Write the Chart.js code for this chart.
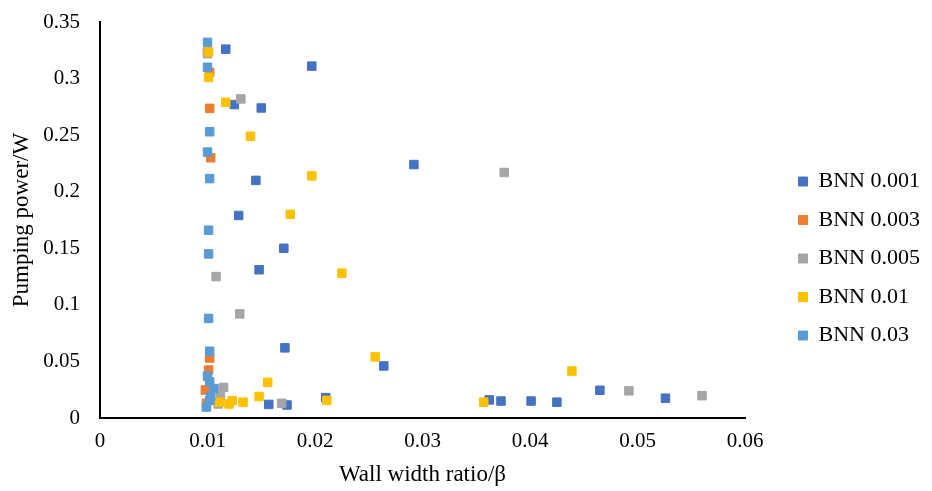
<!DOCTYPE html>
<html lang="en">
  <head>
    <meta charset="UTF-8" />
    <title>Pumping power vs wall width ratio</title>
    <script src="https://cdn.jsdelivr.net/npm/chart.js"></script>
    <style>
      body { margin: 0; background: #fff; }
    </style>
  </head>
  <body>
    <canvas id="powerChart" width="932" height="491"></canvas>

    <script>
      // Series (wall width ratio, pumping power)
      const seriesNames = ["BNN 0.001", "BNN 0.003", "BNN 0.005", "BNN 0.01", "BNN 0.03"];
      const seriesColors = ["#4472C4", "#ED7D31", "#A5A5A5", "#FFC000", "#5B9BD5"];

      const bnn001X = [0.0117, 0.0197, 0.0125, 0.0150, 0.0292, 0.0145, 0.0129, 0.0171, 0.0148, 0.0172, 0.0264, 0.0210, 0.0157, 0.0174, 0.0362, 0.0373, 0.0401, 0.0425, 0.0465, 0.0526];
      const bnn001Y = [0.326, 0.311, 0.277, 0.274, 0.224, 0.210, 0.179, 0.150, 0.131, 0.062, 0.046, 0.018, 0.012, 0.0115, 0.016, 0.015, 0.015, 0.014, 0.0245, 0.0175];

      const bnn003X = [0.0100, 0.0102, 0.0102, 0.0103, 0.0102, 0.0101, 0.0098, 0.0099];
      const bnn003Y = [0.3235, 0.3055, 0.2737, 0.230, 0.053, 0.0424, 0.0247, 0.013];

      const bnn005X = [0.0100, 0.0131, 0.0108, 0.0130, 0.0115, 0.0112, 0.0110, 0.0169, 0.0376, 0.0492, 0.0560];
      const bnn005Y = [0.322, 0.282, 0.125, 0.092, 0.027, 0.019, 0.0124, 0.013, 0.217, 0.024, 0.0197];

      const bnn01X = [0.0101, 0.0101, 0.0117, 0.0140, 0.0197, 0.0177, 0.0225, 0.0156, 0.0148, 0.0111, 0.0120, 0.0123, 0.0133, 0.0211, 0.0256, 0.0357, 0.0439];
      const bnn01Y = [0.3235, 0.301, 0.279, 0.249, 0.214, 0.180, 0.128, 0.0315, 0.019, 0.014, 0.0124, 0.0153, 0.014, 0.0156, 0.054, 0.014, 0.0415];

      const bnn03X = [0.0100, 0.0100, 0.0102, 0.0100, 0.0102, 0.0101, 0.0101, 0.0101, 0.0102, 0.0100, 0.0102, 0.0106, 0.0103, 0.0102, 0.0099];
      const bnn03Y = [0.332, 0.310, 0.253, 0.235, 0.2116, 0.166, 0.145, 0.088, 0.059, 0.037, 0.032, 0.026, 0.019, 0.0155, 0.0097];

      const xTicks = [0, 0.01, 0.02, 0.03, 0.04, 0.05, 0.06];
      const yTicks = [0, 0.05, 0.1, 0.15, 0.2, 0.25, 0.3, 0.35];

      const seriesX = [bnn001X, bnn003X, bnn005X, bnn01X, bnn03X];
      const seriesY = [bnn001Y, bnn003Y, bnn005Y, bnn01Y, bnn03Y];

      const serif = "'Liberation Serif', 'Times New Roman', serif";

      // last series should sit on top, like Excel draws them
      const datasets = seriesNames.map((name, i) => ({
        label: name,
        data: seriesX[i].map((x, j) => ({ x: x, y: seriesY[i][j] })),
        backgroundColor: seriesColors[i],
        borderColor: seriesColors[i],
        borderWidth: 1,
        pointStyle: "rect",
        pointRadius: 6,
        order: seriesNames.length - i,
      }));

      // push legend away from the plot a bit
      const legendGap = {
        id: "legendGap",
        afterLayout(chart) {
          chart.legend.left += 37;
          chart.legend.right += 37;
          chart.legend.top += 2;
          chart.legend.bottom += 2;
        },
      };

      const ctx = document.getElementById("powerChart").getContext("2d");
      new Chart(ctx, {
        type: "scatter",
        data: { datasets: datasets },
        plugins: [legendGap],
        options: {
          responsive: false,
          animation: false,
          layout: { padding: { top: 22, right: 0, bottom: 0, left: 0 } },
          plugins: {
            tooltip: { enabled: false },
            legend: {
              position: "right",
              labels: {
                boxWidth: 9,
                boxHeight: 9,
                padding: 16.5,
                color: "#000",
                font: { family: serif, size: 22 },
                sort: (a, b) => a.datasetIndex - b.datasetIndex,
              },
            },
          },
          scales: {
            x: {
              type: "linear",
              min: 0,
              max: 0.06,
              afterBuildTicks: (scale) => {
                scale.ticks = xTicks.map((v) => ({ value: v }));
              },
              afterFit: (scale) => {
                scale.height = 73;
                scale.paddingRight = 187;
              },
              grid: { display: false },
              border: { display: true, color: "#000", width: 2 },
              ticks: {
                padding: 3,
                color: "#000",
                font: { family: serif, size: 21 },
                callback: (v) => String(v),
              },
              title: {
                display: true,
                text: "Wall width ratio/β",
                color: "#000",
                font: { family: serif, size: 23 },
                padding: { top: 0, bottom: 2 },
              },
            },
            y: {
              type: "linear",
              min: 0,
              max: 0.35,
              afterBuildTicks: (scale) => {
                scale.ticks = yTicks.map((v) => ({ value: v }));
              },
              afterFit: (scale) => {
                scale.width = 100;
                scale.paddingTop = 22;
              },
              grid: { display: false },
              border: { display: true, color: "#000", width: 2 },
              ticks: {
                padding: 12,
                color: "#000",
                font: { family: serif, size: 21 },
                callback: (v) => String(v),
              },
              title: {
                display: true,
                text: "Pumping power/W",
                color: "#000",
                font: { family: serif, size: 23 },
                padding: { top: 8, bottom: 0 },
              },
            },
          },
        },
      });
    </script>
  </body>
</html>
